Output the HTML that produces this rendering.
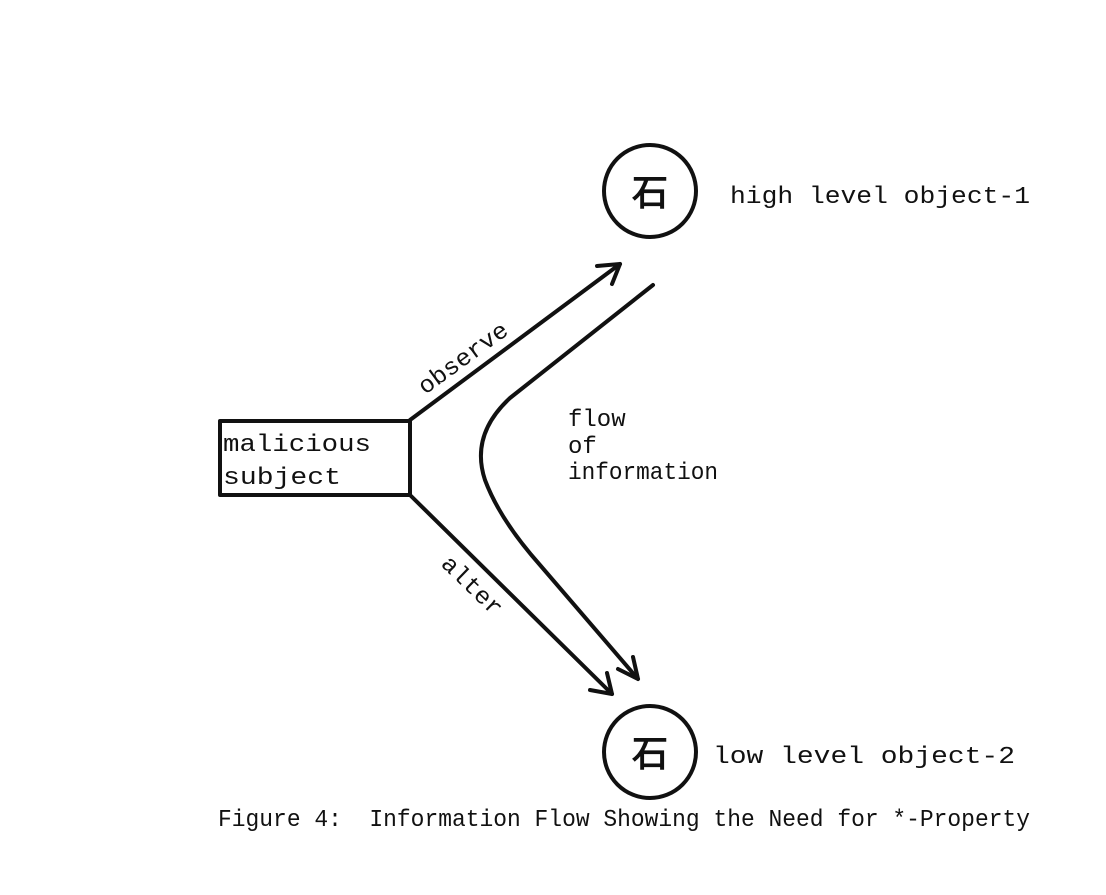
<!DOCTYPE html>
<html><head><style>
body{margin:0;background:#fff;}
svg text{font-family:"Liberation Mono","DejaVu Sans Mono",monospace;fill:#111;}
</style></head><body>
<svg width="1106" height="890" xmlns="http://www.w3.org/2000/svg">
<g stroke="#111" stroke-width="4" fill="none" stroke-linecap="round" stroke-linejoin="round">
<rect x="220" y="421" width="190" height="74"/>
<circle cx="650" cy="191" r="46"/>
<circle cx="650" cy="752" r="46"/>
<line x1="410" y1="420" x2="620" y2="264"/>
<polyline points="597,266 620,264 612,284"/>
<line x1="410" y1="495" x2="612" y2="694"/>
<polyline points="590,690 612,694 607,673"/>
<path d="M653,285 L510,398 Q470,435 485,480 Q500,520 540,565 L638,679"/>
<polyline points="618,669 638,679 633,657"/>
</g>
<text x="650" y="205" font-size="36" text-anchor="middle" font-family="Noto Sans CJK JP" font-weight="bold">石</text>
<text x="650" y="766" font-size="36" text-anchor="middle" font-family="Noto Sans CJK JP" font-weight="bold">石</text>
<g font-size="24">
<text x="223" y="451" textLength="148" lengthAdjust="spacingAndGlyphs">malicious</text>
<text x="223" y="484" textLength="118" lengthAdjust="spacingAndGlyphs">subject</text>
<text x="730" y="203" textLength="300" lengthAdjust="spacingAndGlyphs">high level object-1</text>
<text x="713" y="763" textLength="302" lengthAdjust="spacingAndGlyphs">low level object-2</text>
<text x="568" y="426">flow</text>
<text x="568" y="453">of</text>
<text x="568" y="479" textLength="150" lengthAdjust="spacingAndGlyphs">information</text>
<text transform="translate(425,395) rotate(-36)" textLength="105" lengthAdjust="spacingAndGlyphs">observe</text>
<text transform="translate(440,565) rotate(44)" textLength="75" lengthAdjust="spacingAndGlyphs">alter</text>
<text x="218" y="826" textLength="812" lengthAdjust="spacingAndGlyphs" xml:space="preserve">Figure 4:  Information Flow Showing the Need for *-Property</text>
</g>
</svg>
</body></html>
